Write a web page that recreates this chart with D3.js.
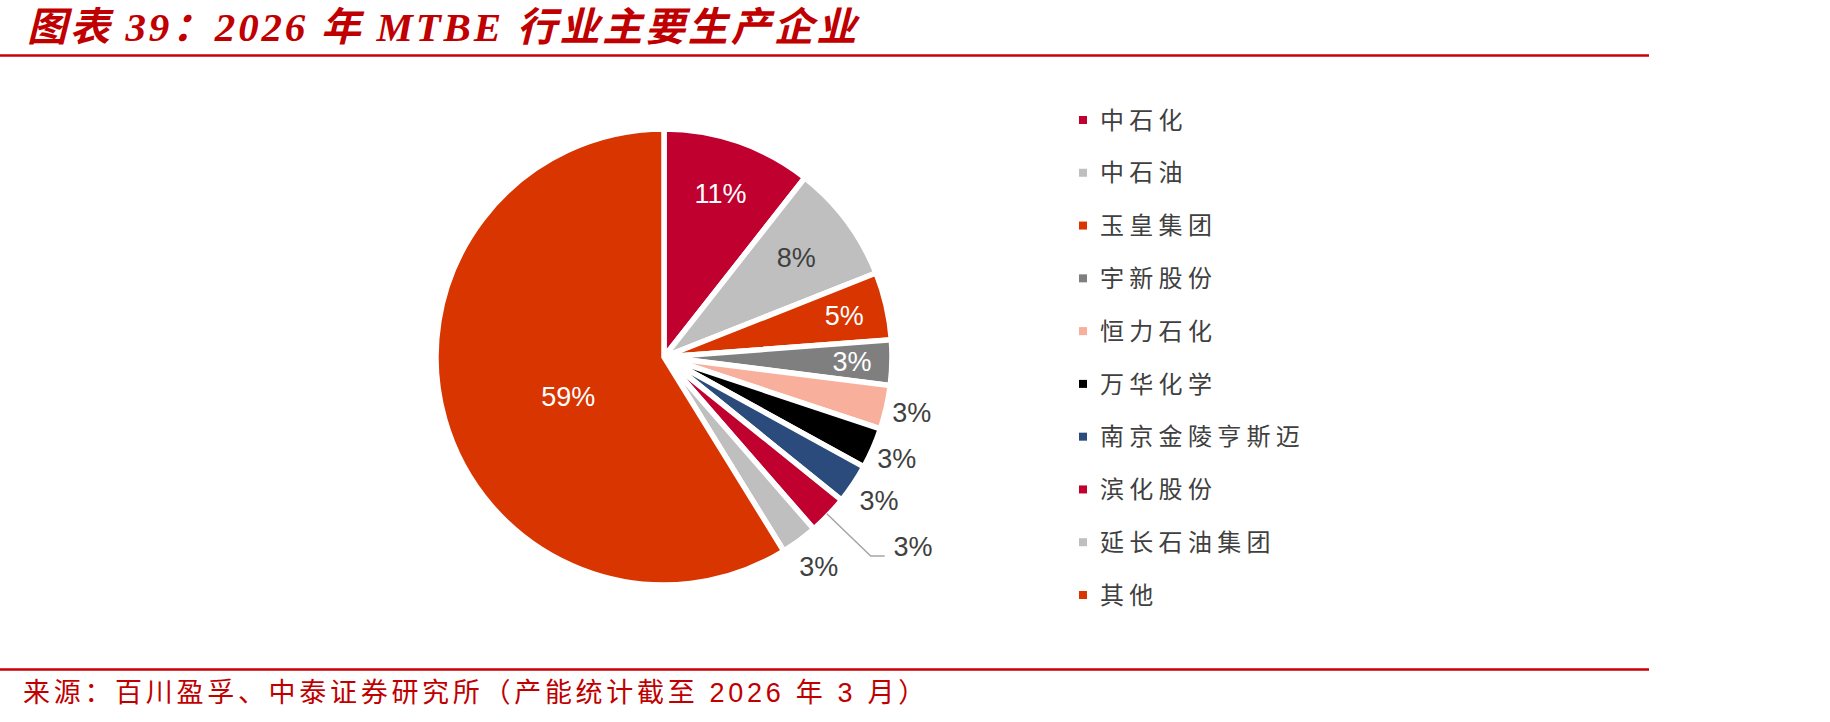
<!DOCTYPE html>
<html>
<head>
<meta charset="utf-8">
<script src="https://cdn.jsdelivr.net/npm/d3@7"></script>
<style>
  body { margin: 0; background: #fff; }
  svg { display: block; }
</style>
</head>
<body>
<svg id="chart"></svg>
<script>
// 企业名称 & 产能占比（%）
const companies = ['中石化', '中石油', '玉皇集团', '宇新股份', '恒力石化', '万华化学', '南京金陵亨斯迈', '滨化股份', '延长石油集团', '其他'];
const shares = [10.6, 8.4, 4.8, 3.2, 3.1, 2.9, 2.8, 2.8, 2.6, 58.8];
const colors = ['#C0002F', '#BFBFBF', '#D83500', '#7F7F7F', '#F8AF9B', '#000000', '#2A4B7C', '#C0002F', '#BFBFBF', '#D83500'];

// title pieces: [text, isLatin]
const titleParts = [['图表 ', false], ['39', true], ['：', false], ['2026', true], [' 年 ', false], ['MTBE', true], [' 行业主要生产企业', false]];
const sourceText = '来源：百川盈孚、中泰证券研究所（产能统计截至 2026 年 3 月）';

// label layout: distance from centre, angle nudge (deg), inside/outside
const labelRadius = [173, 165, 185, 188, 254, 254, 259, 313, 261, 104];
const labelShift = [0, 0, 0, 0, 0, 0, 0, -6.6, 0, -7];
const labelWhite = [true, false, true, true, false, false, false, false, false, true];

const width = 1830, height = 722;
const red = '#C00000';

const svg = d3.select('#chart')
    .attr('width', width)
    .attr('height', height);

svg.append('rect').attr('width', width).attr('height', height).attr('fill', '#fff');

// title + rules
const title = svg.append('text')
    .attr('x', 27)
    .attr('y', 41)
    .attr('fill', red)
    .attr('font-family', '"Liberation Serif", "Noto Sans CJK SC", serif')
    .attr('font-size', 40)
    .attr('font-weight', 'bold')
    .attr('font-style', 'italic')
    .attr('letter-spacing', 2.8);

title.selectAll('tspan')
    .data(titleParts)
    .join('tspan')
    .attr('font-size', d => d[1] ? 41 : 40)
    .text(d => d[0]);

svg.append('line')
    .attr('x1', 0).attr('x2', 1649)
    .attr('y1', 55.5).attr('y2', 55.5)
    .attr('stroke', '#C8000A')
    .attr('stroke-width', 2.5);

svg.append('line')
    .attr('x1', 0).attr('x2', 1649)
    .attr('y1', 669.5).attr('y2', 669.5)
    .attr('stroke', '#C8000A')
    .attr('stroke-width', 2.5);

svg.append('text')
    .attr('x', 23)
    .attr('y', 702)
    .attr('fill', red)
    .attr('font-family', '"Liberation Sans", "Noto Sans CJK SC", sans-serif')
    .attr('font-size', 27)
    .attr('letter-spacing', 3.7)
    .text(sourceText);

// pie
const cx = 664, cy = 357, R = 228;
const data = companies.map((c, i) => ({ name: c, value: shares[i], color: colors[i], idx: i }));

const pie = d3.pie().sort(null).value(d => d.value);
const arcs = pie(data);
const arc = d3.arc().innerRadius(0).outerRadius(R);

const g = svg.append('g').attr('transform', `translate(${cx},${cy})`);

g.selectAll('path.slice')
    .data(arcs)
    .join('path')
    .attr('class', 'slice')
    .attr('d', arc)
    .attr('fill', d => d.data.color)
    .attr('stroke', '#fff')
    .attr('stroke-width', 5.5)
    .attr('stroke-linejoin', 'miter');

// position helper at given radius and angle
const polar = (r, a) => [r * Math.sin(a), -r * Math.cos(a)];
const labelPos = d => {
    const i = d.data.idx;
    const a = (d.startAngle + d.endAngle) / 2 + labelShift[i] * Math.PI / 180;
    return polar(labelRadius[i], a);
};

// leader line for 滨化股份
const leader = arcs[7];
const midA = (leader.startAngle + leader.endAngle) / 2;
const p0 = polar(R - 2, midA), p1 = polar(287, midA);
g.append('path')
    .attr('d', d3.line()([p0, p1, [p1[0] + 14, p1[1]]]))
    .attr('fill', 'none')
    .attr('stroke', '#A6A6A6')
    .attr('stroke-width', 1.5);

g.selectAll('text.pct')
    .data(arcs)
    .join('text')
    .attr('class', 'pct')
    .attr('x', d => labelPos(d)[0])
    .attr('y', d => labelPos(d)[1])
    .attr('text-anchor', 'middle')
    .attr('dominant-baseline', 'central')
    .attr('font-family', '"Liberation Sans", Arial, sans-serif')
    .attr('font-size', 27)
    .attr('fill', d => labelWhite[d.data.idx] ? '#fff' : '#404040')
    .text(d => Math.round(d.data.value) + '%');

// legend
const ly = d3.scalePoint().domain(companies).range([120, 595]);
const legend = svg.append('g');
const rows = legend.selectAll('g')
    .data(data)
    .join('g')
    .attr('transform', d => `translate(1079,${ly(d.name)})`);

rows.append('rect')
    .attr('x', 0).attr('y', -4)
    .attr('width', 8).attr('height', 8)
    .attr('fill', d => d.color);

rows.append('text')
    .attr('x', 21)
    .attr('dy', '0.36em')
    .attr('font-family', '"Noto Sans CJK SC", sans-serif')
    .attr('font-size', 24)
    .attr('letter-spacing', 5.3)
    .attr('fill', '#404040')
    .text(d => d.name);
</script>
</body>
</html>
